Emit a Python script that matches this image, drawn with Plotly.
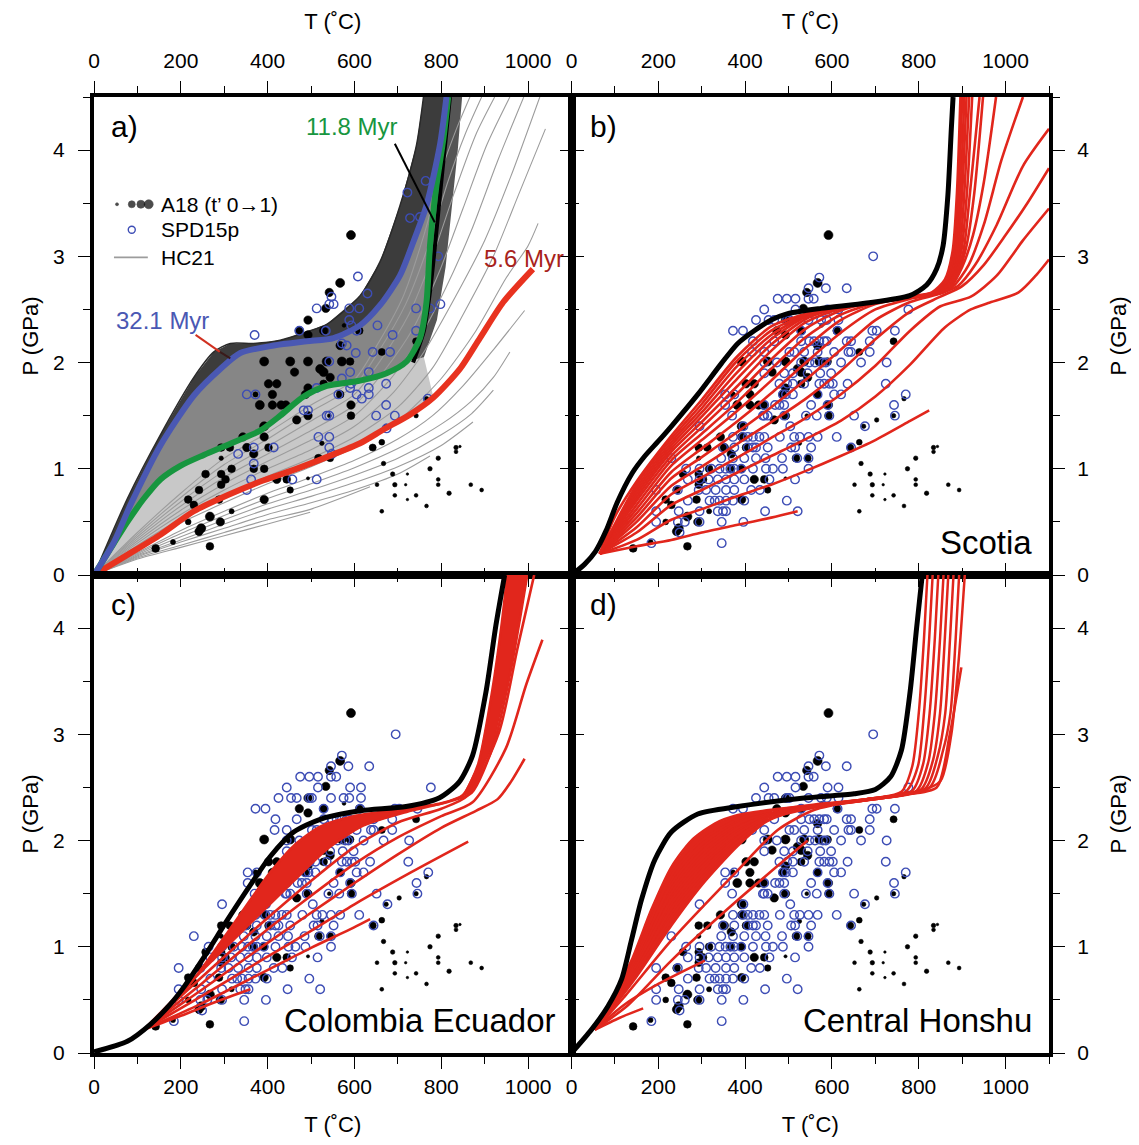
import plotly.graph_objects as go

FONT = "Liberation Sans, Arial, Helvetica, sans-serif"
RED = "#e1261c"
GREEN = "#17963f"
BLUE = "#4a58b3"
CIRC = "#3d4db5"
GRAY = "#9c9c9c"

# ---------------- A18 (black dots): T (degC), P (GPa), t' ----------------
A18_T = [592, 567, 542, 534, 493, 473, 493, 529, 611, 576, 567, 663, 742,
         392, 452, 493, 536, 571, 590,
         462, 521, 529, 544, 402, 421, 529, 493, 411, 487, 567, 372,
         382, 411, 431, 442, 592, 493, 467, 592, 542,
         392, 392, 343, 293, 313, 352, 402, 368, 525, 293,
         317, 368, 392, 257, 293, 303, 293, 517, 544, 642, 663,
         421, 444, 493, 452, 242, 288, 392, 217, 230, 317, 267, 217, 291, 247, 242, 142, 182, 267,
         742, 703, 766, 673, 667, 688, 652, 693, 693, 663, 722, 718, 722, 742, 766, 774,
         793, 793, 793, 818, 834, 834, 843, 868, 893]
A18_P = [3.20, 2.75, 2.66, 2.51, 2.40, 2.30, 2.26, 2.30, 2.30, 2.35, 2.16, 2.10, 2.20,
         2.01, 2.01, 2.01, 2.01, 2.01, 2.01,
         1.91, 1.94, 1.91, 1.86, 1.80, 1.80, 1.80, 1.76, 1.70, 1.70, 1.70, 1.70,
         1.60, 1.60, 1.60, 1.60, 1.60, 1.50, 1.46, 1.50, 1.50,
         1.40, 1.30, 1.30, 1.20, 1.20, 1.20, 1.20, 1.14, 1.24, 1.10,
         1.00, 1.00, 1.00, 0.95, 0.95, 0.90, 0.85, 1.10, 1.10, 1.20, 1.25,
         0.90, 0.90, 0.91, 0.80, 0.80, 0.71, 0.71, 0.71, 0.66, 0.60, 0.55, 0.50, 0.50, 0.44, 0.41, 0.25, 0.31, 0.27,
         1.50, 1.46, 1.66, 1.40, 1.05, 0.95, 0.85, 0.85, 0.75, 0.60, 0.95, 0.85, 0.71, 0.75, 0.65, 1.00,
         1.10, 0.90, 0.85, 0.77, 1.20, 1.16, 1.21, 0.85, 0.80]
A18_TPRIME = [1.0, 1.0, 0.9, 0.9, 0.9, 0.9, 0.9, 0.9, 0.8, 0.2, 0.9, 0.7, 0.7,
              1.0, 1.0, 1.0, 1.0, 1.0, 0.8,
              0.9, 1.0, 1.0, 0.9, 0.9, 0.9, 0.8, 0.9, 0.9, 0.9, 0.8, 0.4,
              1.0, 0.9, 0.9, 0.9, 0.9, 0.9, 0.9, 0.8, 0.2,
              1.0, 0.9, 0.9, 0.8, 0.8, 0.9, 0.8, 0.9, 0.3, 0.3,
              0.8, 0.8, 0.8, 0.8, 0.8, 0.8, 0.8, 0.8, 0.7, 0.7, 0.5,
              0.9, 0.8, 0.1, 0.6, 0.8, 0.8, 0.9, 0.8, 0.8, 0.4, 1.0, 0.5, 0.9, 1.0, 0.9, 0.8, 0.4, 0.8,
              0.3, 0.3, 0.3, 0.3, 0.3, 0.3, 0.2, 0.3, 0.2, 0.2, 0.0, 0.0, 0.0, 0.2, 0.2, 0.3,
              0.3, 0.2, 0.2, 0.3, 0.3, 0.2, 0.0, 0.2, 0.2]

# ---------------- SPD15p (open circles), rows of (P, [T...]) for panels b-d ----------------
SPD15P_ROWS = [
    (3.0, [695]),
    (2.8, [571]),
    (2.7, [546, 586, 634]),
    (2.6, [475, 496, 516, 546, 558]),
    (2.5, [444, 516, 590, 615, 776]),
    (2.4, [425, 454, 467, 496, 502, 546, 575, 588, 615]),
    (2.3, [372, 395, 529, 613, 693, 703, 745]),
    (2.2, [418, 467, 529, 548, 559, 571, 582, 588, 634, 644, 687]),
    (2.1, [416, 444, 502, 513, 536, 567, 605, 638, 644, 687]),
    (2.0, [444, 473, 529, 548, 561, 579, 586, 621, 667, 726]),
    (1.9, [444, 490, 510, 544, 573, 598]),
    (1.8, [479, 497, 510, 536, 571, 582, 594, 602, 636, 724]),
    (1.7, [354, 375, 487, 494, 510, 567, 605, 621, 770]),
    (1.6, [354, 444, 469, 479, 490, 552, 590, 743]),
    (1.5, [370, 441, 444, 452, 490, 540, 565, 594, 651, 745]),
    (1.4, [295, 396, 504, 676]),
    (1.3, [372, 395, 406, 418, 433, 444, 480, 513, 526, 546, 567, 611]),
    (1.2, [349, 375, 406, 418, 425, 452, 506, 515, 552, 644]),
    (1.1, [230, 345, 372, 398, 425, 447, 485, 520, 546]),
    (1.0, [264, 295, 322, 341, 355, 366, 375, 391, 418, 448, 464, 487, 546]),
    (0.9, [268, 295, 316, 337, 356, 375, 398, 456, 515]),
    (0.8, [195, 245, 293, 310, 332, 356, 375, 414, 434]),
    (0.7, [268, 318, 330, 341, 356, 372, 398, 496]),
    (0.6, [195, 247, 295, 337, 349, 356, 446, 521]),
    (0.5, [195, 245, 261, 295, 346, 396]),
    (0.4, [249]),
    (0.3, [184, 346]),
]
# subset visible in panel a (T, P)
SPD15P_A = [(764, 3.71), (793, 3.70), (722, 3.60), (728, 3.36), (751, 3.37), (793, 3.00), (608, 2.81),
            (630, 2.65), (547, 2.62), (552, 2.55), (542, 2.55), (513, 2.51), (588, 2.51), (611, 2.51),
            (588, 2.40), (593, 2.35), (653, 2.35), (742, 2.51), (774, 2.51), (798, 2.55), (742, 2.30),
            (688, 2.26), (370, 2.26), (473, 2.30), (534, 2.30), (605, 2.30), (603, 2.09), (642, 2.10),
            (682, 2.10), (571, 2.18), (582, 2.16), (633, 1.91), (673, 1.80), (542, 2.01), (590, 1.91),
            (571, 1.85), (592, 1.80), (590, 1.76), (605, 1.70), (633, 1.76), (633, 1.70), (617, 1.66),
            (513, 1.76), (563, 1.70), (352, 1.70), (372, 1.70), (483, 1.55), (493, 1.55), (673, 1.60),
            (650, 1.50), (693, 1.50), (769, 1.66), (536, 1.50), (542, 1.50), (674, 1.38), (517, 1.30),
            (542, 1.30), (368, 1.20), (414, 1.20), (542, 1.20), (548, 1.14), (332, 1.14), (368, 1.05),
            (362, 0.90), (352, 0.80), (457, 0.90), (513, 0.90)]

# ---------------- Panel a: HC21 paths ----------------
HC21_RED_56 = [(0, 0), (77, 0.19), (153, 0.38), (230, 0.60), (307, 0.75), (383, 0.88), (460, 0.99),
               (536, 1.11), (613, 1.24), (667, 1.37), (728, 1.51), (782, 1.67), (843, 1.94), (889, 2.23),
               (943, 2.57), (1011, 2.88)]
HC21_GREEN_118 = [(0, 0), (46, 0.30), (77, 0.50), (115, 0.72), (153, 0.90), (200, 1.03), (253, 1.13),
                  (322, 1.25), (383, 1.36), (429, 1.50), (483, 1.68), (536, 1.78), (613, 1.83), (674, 1.90),
                  (720, 2.01), (751, 2.23), (766, 2.57), (774, 3.10), (789, 3.67), (805, 4.11), (816, 4.5)]
HC21_BLUE_321 = [(0, 0), (46, 0.31), (84, 0.66), (153, 1.22), (230, 1.69), (291, 1.94), (337, 2.09),
                 (414, 2.16), (490, 2.20), (552, 2.23), (613, 2.35), (659, 2.54), (705, 2.82), (736, 3.14),
                 (766, 3.48), (797, 4.05), (812, 4.5)]
HC21_ENVELOPE = [(0, 0), (77, 0.72), (153, 1.32), (230, 1.86), (276, 2.10), (314, 2.18), (368, 2.18),
                 (429, 2.21), (490, 2.29), (536, 2.36), (613, 2.63), (659, 2.95), (705, 3.48), (743, 4.05),
                 (759, 4.5)]
HC21_RIGHT_EDGE = [(760, 2.05), (790, 2.40), (810, 2.90), (825, 3.50), (838, 4.00), (848, 4.5)]
HC21_BLACK = [(735, 2.00), (760, 2.30), (775, 2.70), (788, 3.20), (800, 3.70), (810, 4.10), (820, 4.5)]
HC21_BELOW = [
    [(0, 0), (100, 0.15), (200, 0.26), (300, 0.37), (400, 0.48), (498, 0.59)],
    [(0, 0), (100, 0.16), (200, 0.28), (300, 0.40), (400, 0.52), (500, 0.62), (636, 0.83)],
    [(0, 0), (100, 0.17), (200, 0.31), (300, 0.44), (400, 0.57), (500, 0.68), (600, 0.80), (700, 0.95), (774, 1.12)],
    [(0, 0), (100, 0.18), (200, 0.33), (300, 0.48), (400, 0.62), (500, 0.74), (600, 0.87), (700, 1.02), (800, 1.22), (873, 1.44)],
    [(0, 0), (100, 0.19), (200, 0.36), (300, 0.52), (400, 0.67), (500, 0.80), (600, 0.94), (700, 1.10), (800, 1.32), (870, 1.52), (920, 1.74)],
    [(0, 0), (100, 0.20), (200, 0.39), (300, 0.56), (400, 0.72), (500, 0.86), (600, 1.01), (700, 1.19), (800, 1.42), (870, 1.64), (920, 1.86), (958, 2.10)],
    [(0, 0), (100, 0.21), (200, 0.42), (300, 0.60), (400, 0.77), (500, 0.92), (600, 1.08), (700, 1.28), (780, 1.50), (850, 1.78), (920, 2.12), (992, 2.49)],
]
HC21_ABOVE = [
    [(0, 0), (100, 0.26), (200, 0.49), (300, 0.68), (400, 0.86), (500, 1.02), (600, 1.20), (700, 1.45), (800, 1.85), (880, 2.30), (950, 2.80), (1000, 3.10), (1023, 3.31)],
    [(0, 0), (100, 0.28), (200, 0.53), (300, 0.74), (400, 0.93), (500, 1.10), (600, 1.30), (700, 1.58), (780, 1.95), (850, 2.45), (920, 3.00), (980, 3.60), (1040, 4.20)],
    [(0, 0), (100, 0.30), (200, 0.57), (300, 0.80), (400, 1.00), (500, 1.18), (600, 1.40), (690, 1.72), (760, 2.10), (830, 2.60), (900, 3.15), (960, 3.75), (1027, 4.5)],
    [(0, 0), (100, 0.32), (200, 0.61), (300, 0.86), (400, 1.07), (500, 1.27), (600, 1.50), (680, 1.83), (745, 2.20), (810, 2.70), (870, 3.25), (930, 3.90), (990, 4.5)],
    [(0, 0), (100, 0.34), (200, 0.65), (300, 0.92), (400, 1.14), (500, 1.36), (600, 1.60), (670, 1.93), (735, 2.32), (795, 2.85), (850, 3.45), (905, 4.05), (958, 4.5)],
    [(0, 0), (100, 0.36), (200, 0.69), (300, 0.98), (400, 1.21), (500, 1.45), (600, 1.70), (660, 2.02), (725, 2.45), (780, 3.00), (830, 3.60), (880, 4.15), (923, 4.5)],
    [(0, 0), (100, 0.38), (200, 0.73), (300, 1.04), (400, 1.28), (500, 1.54), (600, 1.78), (655, 2.10), (718, 2.55), (770, 3.10), (815, 3.70), (855, 4.15), (893, 4.5)],
    [(0, 0), (100, 0.40), (200, 0.77), (300, 1.10), (400, 1.34), (500, 1.60), (600, 1.84), (650, 2.15), (712, 2.62), (760, 3.20), (800, 3.80), (835, 4.20), (866, 4.5)],
]

# ---------------- Panel b: Scotia ----------------
SCOTIA_BLACK = [(0, 0), (30, 0.10), (55, 0.22), (80, 0.42), (105, 0.68), (140, 0.96), (169, 1.12), (200, 1.26),
                (230, 1.40), (291, 1.70), (345, 1.99), (383, 2.18), (421, 2.30), (460, 2.40), (498, 2.46),
                (575, 2.51), (680, 2.56), (779, 2.63), (818, 2.73), (841, 2.88), (856, 3.10), (867, 3.57),
                (875, 4.20), (879, 4.5)]
SCOTIA_RED = [
    [(65, .2), (150, .27), (230, .33), (300, .40), (380, .47), (460, .54), (521, .60)],
    [(65, .2), (150, .33), (230, .52), (300, .62), (380, .74), (460, .85), (540, .98), (620, 1.12), (700, 1.27), (780, 1.45), (824, 1.55)],
    [(65, .2), (150, .40), (230, .66), (300, .80), (380, .96), (460, 1.12), (540, 1.28), (620, 1.45), (700, 1.68), (780, 1.98), (860, 2.33), (920, 2.50), (960, 2.56), (1030, 2.66), (1070, 2.82), (1100, 2.97)],
    [(65, .2), (150, .45), (230, .76), (300, .92), (380, 1.10), (460, 1.29), (540, 1.48), (620, 1.70), (700, 1.97), (780, 2.30), (850, 2.53), (920, 2.62), (980, 2.82), (1040, 3.15), (1100, 3.45)],
    [(65, .2), (150, .50), (230, .84), (300, 1.02), (380, 1.23), (460, 1.44), (540, 1.66), (620, 1.92), (700, 2.22), (780, 2.48), (850, 2.62), (900, 2.72), (950, 2.92), (1000, 3.20), (1050, 3.50), (1100, 3.83)],
    [(65, .2), (150, .54), (230, .91), (300, 1.11), (380, 1.34), (460, 1.58), (540, 1.84), (620, 2.12), (700, 2.40), (780, 2.57), (850, 2.65), (890, 2.72), (930, 2.92), (980, 3.30), (1040, 3.85), (1100, 4.20)],
    [(65, .2), (150, .58), (230, .97), (300, 1.19), (380, 1.44), (460, 1.71), (540, 2.00), (620, 2.28), (700, 2.50), (780, 2.60), (850, 2.66), (880, 2.72), (915, 2.92), (950, 3.30), (990, 3.90), (1040, 4.5)],
    [(65, .2), (150, .62), (230, 1.03), (300, 1.27), (380, 1.54), (460, 1.83), (540, 2.14), (620, 2.40), (700, 2.55), (780, 2.62), (850, 2.67), (875, 2.72), (900, 2.90), (925, 3.20), (950, 3.70), (978, 4.5)],
    [(65, .2), (150, .66), (230, 1.08), (300, 1.33), (380, 1.62), (460, 1.94), (540, 2.24), (620, 2.45), (700, 2.56), (780, 2.61), (865, 2.68), (892, 2.86), (910, 3.10), (928, 3.60), (948, 4.5)],
    [(65, .2), (150, .70), (230, 1.12), (300, 1.39), (380, 1.70), (460, 2.03), (540, 2.32), (620, 2.49), (700, 2.57), (780, 2.61), (860, 2.67), (887, 2.85), (903, 3.05), (918, 3.60), (940, 4.5)],
    [(65, .2), (150, .73), (230, 1.16), (300, 1.44), (380, 1.77), (460, 2.11), (540, 2.38), (620, 2.51), (700, 2.57), (780, 2.61), (855, 2.67), (882, 2.84), (898, 3.05), (911, 3.60), (923, 4.5)],
    [(65, .2), (150, .76), (230, 1.19), (300, 1.49), (380, 1.84), (460, 2.17), (540, 2.41), (620, 2.52), (700, 2.57), (780, 2.61), (850, 2.66), (878, 2.83), (894, 3.05), (905, 3.60), (916, 4.5)],
    [(65, .2), (150, .79), (230, 1.22), (300, 1.53), (380, 1.90), (460, 2.22), (540, 2.43), (620, 2.52), (700, 2.57), (780, 2.61), (845, 2.66), (874, 2.82), (890, 3.05), (900, 3.60), (910, 4.5)],
    [(65, .2), (150, .82), (230, 1.25), (300, 1.57), (380, 1.96), (460, 2.26), (540, 2.44), (620, 2.52), (700, 2.57), (780, 2.61), (840, 2.66), (870, 2.80), (886, 3.05), (896, 3.60), (905, 4.5)],
    [(65, .2), (150, .85), (230, 1.28), (300, 1.61), (380, 2.01), (460, 2.30), (540, 2.45), (620, 2.53), (700, 2.57), (780, 2.61), (835, 2.66), (865, 2.78), (882, 3.05), (892, 3.60), (900, 4.5)],
    [(65, .2), (100, .55), (150, .88), (230, 1.31), (300, 1.65), (380, 2.05), (460, 2.34), (540, 2.46), (620, 2.53), (700, 2.57), (780, 2.61), (830, 2.66), (860, 2.78), (878, 3.05), (888, 3.60), (896, 4.5)],
]

# ---------------- Panel c: Colombia Ecuador ----------------
CE_BLACK = [(0, 0.01), (77, 0.11), (130, 0.27), (176, 0.46), (207, 0.62), (253, 0.90), (307, 1.25), (360, 1.58),
            (406, 1.85), (460, 2.08), (521, 2.20), (613, 2.28), (719, 2.32), (795, 2.40), (841, 2.55), (872, 2.80),
            (903, 3.40), (926, 4.03), (946, 4.5)]
CE_BUNDLE_TOP = [(115, 0.22), (153, 0.36), (207, 0.58), (253, 0.82), (307, 1.13), (360, 1.44), (406, 1.70),
                 (460, 1.95), (521, 2.13), (600, 2.23), (700, 2.29), (800, 2.35), (850, 2.43), (885, 2.72),
                 (915, 3.35), (938, 4.00), (952, 4.5)]
CE_BUNDLE_BOTTOM = [(115, 0.22), (250, 0.78), (380, 1.30), (460, 1.62), (540, 1.93), (620, 2.14), (720, 2.27),
                    (820, 2.37), (870, 2.45), (920, 2.90), (960, 3.60), (998, 4.5)]
CE_RED = [
    [(115, 0.22), (200, 0.35), (280, 0.48), (360, 0.60)],
    [(115, 0.22), (250, 0.47), (380, 0.74), (500, 0.99), (598, 1.18), (636, 1.26)],
    [(115, 0.22), (250, 0.54), (380, 0.86), (500, 1.15), (600, 1.40), (730, 1.70), (862, 1.99)],
    [(115, 0.22), (250, 0.60), (380, 0.98), (500, 1.32), (600, 1.60), (700, 1.87), (800, 2.12), (880, 2.28), (930, 2.39), (960, 2.55), (992, 2.77)],
    [(115, 0.22), (250, 0.66), (380, 1.10), (500, 1.48), (600, 1.78), (700, 2.03), (800, 2.23), (872, 2.36), (949, 2.87), (995, 3.46), (1033, 3.89)],
    [(115, 0.22), (250, 0.72), (380, 1.20), (500, 1.62), (600, 1.94), (700, 2.17), (800, 2.30), (860, 2.42), (933, 3.02), (975, 3.80), (1014, 4.5)],
]

# ---------------- Panel d: Central Honshu ----------------
CH_BLACK = [(0, 0), (46, 0.22), (84, 0.44), (115, 0.69), (138, 1.06), (161, 1.44), (192, 1.82), (230, 2.08),
            (291, 2.25), (383, 2.32), (536, 2.40), (651, 2.44), (700, 2.48), (735, 2.60), (760, 2.85), (780, 3.40),
            (795, 4.00), (808, 4.5)]
CH_BUNDLE = [
    [(54, 0.22), (92, 0.50), (138, 0.87), (184, 1.35), (230, 1.75), (276, 2.00), (330, 2.16), (383, 2.24),
     (460, 2.29), (600, 2.35), (700, 2.40), (760, 2.46), (785, 2.70), (800, 3.20), (812, 3.90), (820, 4.5)],
    [(54, 0.22), (100, 0.54), (150, 0.93), (230, 1.67), (300, 2.00), (383, 2.20), (460, 2.28), (560, 2.34),
     (680, 2.39), (770, 2.46), (798, 2.70), (812, 3.20), (824, 3.90), (832, 4.5)],
    [(54, 0.22), (100, 0.52), (150, 0.90), (230, 1.59), (300, 1.93), (383, 2.16), (460, 2.26), (560, 2.33),
     (680, 2.39), (785, 2.47), (810, 2.72), (825, 3.20), (837, 3.90), (845, 4.5)],
    [(54, 0.22), (100, 0.51), (150, 0.86), (230, 1.51), (300, 1.86), (383, 2.12), (460, 2.25), (560, 2.33),
     (680, 2.38), (795, 2.47), (822, 2.74), (837, 3.20), (849, 3.90), (857, 4.5)],
    [(54, 0.22), (100, 0.49), (150, 0.83), (230, 1.44), (300, 1.79), (383, 2.07), (460, 2.24), (560, 2.32),
     (680, 2.38), (805, 2.48), (833, 2.76), (849, 3.20), (860, 3.90), (868, 4.5)],
    [(54, 0.22), (100, 0.48), (150, 0.79), (230, 1.36), (300, 1.72), (383, 2.03), (460, 2.23), (560, 2.32),
     (680, 2.38), (815, 2.49), (844, 2.80), (861, 3.20), (872, 3.90), (880, 4.5)],
    [(54, 0.22), (100, 0.46), (150, 0.76), (230, 1.28), (300, 1.65), (383, 1.99), (460, 2.21), (560, 2.31),
     (680, 2.38), (825, 2.50), (856, 2.85), (873, 3.20), (885, 3.90), (893, 4.5)],
    [(54, 0.22), (100, 0.45), (150, 0.72), (230, 1.20), (300, 1.58), (383, 1.95), (450, 2.18), (530, 2.30),
     (620, 2.36), (720, 2.41), (800, 2.46), (850, 2.56), (875, 3.00), (892, 3.70), (906, 4.5)],
]
CH_RED = [
    [(54, 0.22), (110, 0.33), (165, 0.42)],
    [(54, 0.22), (120, 0.45), (200, 0.65), (307, 0.87)],
    [(54, 0.22), (130, 0.45), (230, 0.87), (383, 1.44), (544, 2.00)],
    [(54, 0.22), (120, 0.52), (230, 1.06), (383, 1.72), (475, 2.10), (560, 2.29), (650, 2.37), (760, 2.43),
     (841, 2.50), (871, 2.99), (898, 3.63)],
]

# ---------------- text ----------------
PANEL_LABELS = ["a)", "b)", "c)", "d)"]
REGION_NAMES = [None, "Scotia", "Colombia Ecuador", "Central Honshu"]
T_TICKS = [0, 200, 400, 600, 800, 1000]
P_TICKS = [0, 1, 2, 3, 4]

fig = go.Figure()
AX = [("x", "y"), ("x2", "y2"), ("x3", "y3"), ("x4", "y4")]


def xs(pts):
    return [p[0] for p in pts]


def ys(pts):
    return [p[1] for p in pts]


def line(pts, k, color, width, shape="spline"):
    fig.add_trace(go.Scatter(x=xs(pts), y=ys(pts), mode="lines",
                             line=dict(color=color, width=width, shape=shape, smoothing=0.7),
                             xaxis=AX[k][0], yaxis=AX[k][1], hoverinfo="skip", showlegend=False))


def poly(pts, k, color):
    fig.add_trace(go.Scatter(x=xs(pts) + [pts[0][0]], y=ys(pts) + [pts[0][1]], mode="lines",
                             fill="toself", fillcolor=color, line=dict(width=0, color=color),
                             xaxis=AX[k][0], yaxis=AX[k][1], hoverinfo="skip", showlegend=False))


def a18(k):
    fig.add_trace(go.Scatter(x=A18_T, y=A18_P, mode="markers",
                             marker=dict(color="black", opacity=1, size=[2.5 + 6.5 * t for t in A18_TPRIME],
                                         line=dict(width=0.6, color="black")),
                             xaxis=AX[k][0], yaxis=AX[k][1], hoverinfo="skip", showlegend=False))


def spd(k, pts):
    fig.add_trace(go.Scatter(x=xs(pts), y=ys(pts), mode="markers",
                             marker=dict(symbol="circle-open", color=CIRC, size=8.5, opacity=1,
                                         line=dict(width=1.4, color=CIRC)),
                             xaxis=AX[k][0], yaxis=AX[k][1], hoverinfo="skip", showlegend=False))


SPD_ALL = [(t, p) for p, row in SPD15P_ROWS for t in row]

# ---- Panel a ----
green_low = [p for p in HC21_GREEN_118 if p[0] <= 720]
red_low = [p for p in HC21_RED_56 if p[0] <= 782]
poly(green_low + [HC21_RIGHT_EDGE[0]] + red_low[::-1], 0, "#c8c8c8")
green_high = [p for p in HC21_GREEN_118 if p[0] >= 720]
poly(green_high + HC21_RIGHT_EDGE[::-1], 0, "#555555")
poly(HC21_BLUE_321 + HC21_GREEN_118[::-1], 0, "#868686")
poly(HC21_ENVELOPE + HC21_BLUE_321[::-1], 0, "#3c3c3c")
for l in HC21_BELOW + HC21_ABOVE:
    line(l, 0, GRAY, 1.1)
line(HC21_ENVELOPE, 0, "#2a2a2a", 1.5)
a18(0)
spd(0, SPD15P_A)
line(HC21_BLACK, 0, "black", 4)
line(HC21_RED_56, 0, "#e8321f", 6)
line(HC21_GREEN_118, 0, GREEN, 6)
line(HC21_BLUE_321, 0, BLUE, 6)
# pointers
line([(693, 4.06), (785, 3.32)], 0, "black", 2, "linear")
line([(234, 2.26), (290, 2.10)], 0, "#d03020", 2, "linear")
line([(290, 2.10), (314, 2.04)], 0, "#3a1a1a", 2, "linear")
# legend
LEG_DOT_T = [53, 87, 108, 126]
LEG_DOT_SIZE = [3, 7, 8, 9]
fig.add_trace(go.Scatter(x=LEG_DOT_T, y=[3.49] * 4, mode="markers",
                         marker=dict(color="black", size=LEG_DOT_SIZE, line=dict(width=0.6, color="black")),
                         xaxis="x", yaxis="y", hoverinfo="skip", showlegend=False))
fig.add_trace(go.Scatter(x=[87], y=[3.25], mode="markers",
                         marker=dict(symbol="circle-open", color=CIRC, size=7, line=dict(width=1.4, color=CIRC)),
                         xaxis="x", yaxis="y", hoverinfo="skip", showlegend=False))
line([(46, 2.99), (124, 2.99)], 0, GRAY, 1.8, "linear")

# ---- Panel b ----
a18(1)
spd(1, SPD_ALL)
for l in SCOTIA_RED:
    line(l, 1, RED, 2.6)
line(SCOTIA_BLACK, 1, "black", 5)

# ---- Panel c ----
a18(2)
spd(2, SPD_ALL)
poly(CE_BUNDLE_TOP + CE_BUNDLE_BOTTOM[::-1], 2, RED)
line(CE_BUNDLE_TOP, 2, RED, 2.6)
line(CE_BUNDLE_BOTTOM, 2, RED, 2.6)
for l in CE_RED:
    line(l, 2, RED, 2.6)
line(CE_BLACK, 2, "black", 5)

# ---- Panel d ----
a18(3)
spd(3, SPD_ALL)
top_rise = [p for p in CH_BUNDLE[0] if p[0] <= 460]
bot_rise = [p for p in CH_BUNDLE[-1] if p[0] <= 450]
poly(top_rise + bot_rise[::-1], 3, RED)
for l in CH_BUNDLE:
    line(l, 3, RED, 2.5)
for l in CH_RED:
    line(l, 3, RED, 2.6)
line(CH_BLACK, 3, "black", 5)

# dummy traces for overlay axes
for i in range(4):
    fig.add_trace(go.Scatter(x=[None], y=[None], xaxis="x%d" % (i + 5), yaxis="y%d" % (i + 5),
                             showlegend=False, hoverinfo="skip"))

XD = [[0, 0.5], [0.5, 1], [0, 0.5], [0.5, 1]]
YD = [[0.5, 1], [0.5, 1], [0, 0.5], [0, 0.5]]


def axis_cfg(domain, anchor, side, rng, tickvals, mdtick, ticks, labels, title=None, overlaying=None,
             standoff=10, tstandoff=16):
    d = dict(domain=domain, anchor=anchor, side=side, range=rng, tickmode="array", tickvals=tickvals,
             ticks=ticks, ticklen=12, tickwidth=1.4, tickcolor="black",
             minor=dict(dtick=mdtick, tick0=0, ticks=ticks, ticklen=7, tickwidth=1.4, tickcolor="black"),
             showticklabels=labels, showline=True, linecolor="black", linewidth=4,
             showgrid=False, zeroline=False, fixedrange=True, automargin=False,
             tickfont=dict(family=FONT, size=21, color="black"), ticklabelstandoff=standoff)
    if title:
        d["title"] = dict(text=title, font=dict(family=FONT, size=22, color="black"), standoff=tstandoff)
    if overlaying:
        d["overlaying"] = overlaying
    return d


layout_axes = {}
top_lab = [True, True, False, False]
bot_lab = [False, False, True, True]
left_lab = [True, False, True, False]
right_lab = [False, True, False, True]
for i in range(4):
    n = i + 1
    xk = "xaxis" if n == 1 else "xaxis%d" % n
    yk = "yaxis" if n == 1 else "yaxis%d" % n
    ya = "y" if n == 1 else "y%d" % n
    xa = "x" if n == 1 else "x%d" % n
    layout_axes[xk] = axis_cfg(XD[i], ya, "bottom", [0, 1100], T_TICKS, 100,
                               "outside" if bot_lab[i] else "inside", bot_lab[i],
                               "T (˚C)" if bot_lab[i] else None, standoff=0, tstandoff=29)
    layout_axes[yk] = axis_cfg(YD[i], xa, "left", [0, 4.5], P_TICKS, 0.5,
                               "outside" if left_lab[i] else "inside", left_lab[i],
                               "P (GPa)" if left_lab[i] else None, standoff=9, tstandoff=9)
    layout_axes["xaxis%d" % (n + 4)] = axis_cfg(XD[i], ya, "top", [0, 1100], T_TICKS, 100,
                                                "outside" if top_lab[i] else "inside", top_lab[i],
                                                "T (˚C)" if top_lab[i] else None, overlaying=xa,
                                                standoff=5, tstandoff=14)
    layout_axes["yaxis%d" % (n + 4)] = axis_cfg(YD[i], xa, "right", [0, 4.5], P_TICKS, 0.5,
                                                "outside" if right_lab[i] else "inside", right_lab[i],
                                                "P (GPa)" if right_lab[i] else None, overlaying=ya,
                                                standoff=8, tstandoff=31)

annotations = []
LABEL_T = [34, 39, 34, 39]
for i in range(4):
    annotations.append(dict(text=PANEL_LABELS[i], x=LABEL_T[i], y=4.22, xref=AX[i][0], yref=AX[i][1],
                            xanchor="left", yanchor="middle", showarrow=False,
                            font=dict(family=FONT, size=30, color="black")))
    if REGION_NAMES[i]:
        annotations.append(dict(text=REGION_NAMES[i], x=1066, y=0.31, xref=AX[i][0], yref=AX[i][1],
                                xanchor="right", yanchor="middle", showarrow=False,
                                font=dict(family=FONT, size=33, color="black")))
annotations += [
    dict(text="11.8 Myr", x=483, y=4.22, xref="x", yref="y", xanchor="left", yanchor="middle",
         showarrow=False, font=dict(family=FONT, size=24, color=GREEN)),
    dict(text="32.1 Myr", x=46, y=2.40, xref="x", yref="y", xanchor="left", yanchor="middle",
         showarrow=False, font=dict(family=FONT, size=24, color=BLUE)),
    dict(text="5.6 Myr", x=893, y=2.98, xref="x", yref="y", xanchor="left", yanchor="middle",
         showarrow=False, font=dict(family=FONT, size=24, color="#a8231c")),
    dict(text="A18 (t’ 0→1)", x=150, y=3.49, xref="x", yref="y", xanchor="left", yanchor="middle",
         showarrow=False, font=dict(family=FONT, size=21, color="black")),
    dict(text="SPD15p", x=150, y=3.25, xref="x", yref="y", xanchor="left", yanchor="middle",
         showarrow=False, font=dict(family=FONT, size=21, color="black")),
    dict(text="HC21", x=150, y=2.99, xref="x", yref="y", xanchor="left", yanchor="middle",
         showarrow=False, font=dict(family=FONT, size=21, color="black")),
]

# page body has an 8px margin: size the figure so the plot area lands where the reference has it
fig.update_layout(width=1123, height=1129, margin=dict(l=86, r=82, t=89, b=84, autoexpand=False),
                  paper_bgcolor="white", plot_bgcolor="white", showlegend=False,
                  annotations=annotations, **layout_axes)
fig.write_html("out.html")
